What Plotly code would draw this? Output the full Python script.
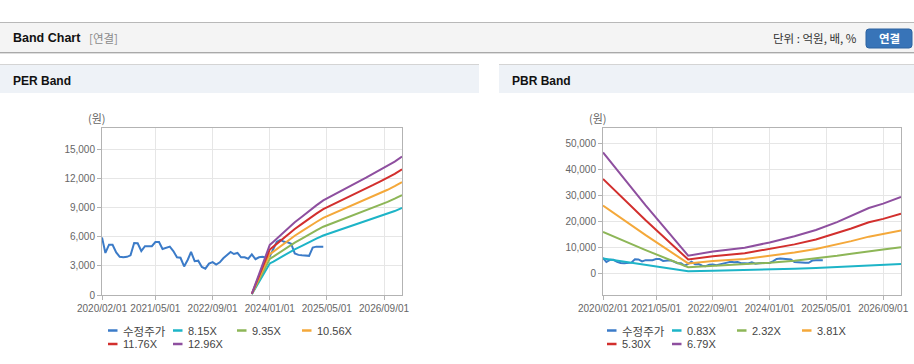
import pandas as pd
import plotly.graph_objects as go

# ---------------- data ----------------
price_start = "2020-02-01"
price_values = [5950, 4350, 5200, 5200, 4400, 3950, 3900, 3950, 4100, 5380,
                5350, 4550, 5050, 5050, 5050, 5480, 5480, 4750, 4900, 5000,
                4550, 3900, 3850, 2950, 3650, 4450, 3500, 3550, 2900, 2720,
                3250, 3400, 3140, 3380, 3800, 4100, 4450, 4240, 4345, 3900,
                3900, 3750, 4200, 3700, 3900, 3950, 3850, 4000, 4700, 5500,
                5700, 5500, 5450, 5300, 4300, 4150, 4100, 4050, 4050, 4900,
                5000, 5000, 5000]
price_dates = pd.date_range(price_start, periods=len(price_values), freq="MS")

per_band_dates = ["2023-08-01", "2024-01-01", "2024-02-01", "2024-04-01", "2024-06-01",
                  "2024-08-01", "2024-10-01", "2024-12-01", "2025-02-01", "2025-04-01",
                  "2025-06-01", "2025-08-01", "2025-10-01", "2025-12-01", "2026-02-01",
                  "2026-04-01", "2026-06-01", "2026-08-01", "2026-10-01", "2026-12-01",
                  "2027-02-01"]
per_8_15 = [80, 3260, 3460, 3900, 4320, 4730, 5090, 5480, 5830, 6150, 6400,
            6640, 6890, 7140, 7380, 7630, 7890, 8150, 8390, 8680, 9010]
per_9_35 = [90, 3740, 3970, 4470, 4960, 5420, 5840, 6280, 6690, 7060, 7340,
            7620, 7900, 8190, 8460, 8750, 9050, 9350, 9630, 9960, 10330]
per_10_56 = [110, 4220, 4490, 5050, 5600, 6130, 6600, 7100, 7550, 7970, 8290,
             8610, 8920, 9250, 9560, 9880, 10220, 10560, 10880, 11250, 11670]
per_11_76 = [120, 4700, 5000, 5620, 6230, 6820, 7350, 7900, 8410, 8880, 9230,
             9580, 9940, 10300, 10640, 11010, 11380, 11760, 12110, 12520, 13000]
per_12_96 = [130, 5180, 5510, 6200, 6870, 7520, 8100, 8710, 9270, 9790, 10170,
             10560, 10950, 11350, 11730, 12130, 12550, 12960, 13350, 13800, 14320]

pbr_band_dates = ["2020-02-01", "2021-02-01", "2022-02-01", "2022-09-01", "2023-06-01",
                  "2024-01-01", "2024-08-01", "2025-02-01", "2025-08-01", "2025-12-01",
                  "2026-05-01", "2026-09-01", "2027-02-01"]
pbr_0_83 = [5690, 3200, 830, 1020, 1200, 1450, 1740, 2030, 2410, 2700, 3070, 3280, 3590]
pbr_2_32 = [15890, 8930, 2320, 2850, 3360, 4060, 4870, 5680, 6730, 7540, 8580, 9160, 10020]
pbr_3_81 = [26100, 14670, 3810, 4690, 5520, 6670, 8000, 9330, 11050, 12380, 14100, 15050, 16460]
pbr_5_30 = [36300, 20400, 5300, 6520, 7690, 9280, 11130, 12990, 15370, 17220, 19610, 20940, 22900]
pbr_6_79 = [46510, 26140, 6790, 8350, 9850, 11880, 14260, 16640, 19690, 22070, 25120, 26820, 29330]

per_labels = ["수정주가", "8.15X", "9.35X", "10.56X", "11.76X", "12.96X"]
pbr_labels = ["수정주가", "0.83X", "2.32X", "3.81X", "5.30X", "6.79X"]

tick_vals = ["2020-02-01", "2021-05-01", "2022-09-01", "2024-01-01", "2025-05-01", "2026-09-01"]
tick_text = ["2020/02/01", "2021/05/01", "2022/09/01", "2024/01/01", "2025/05/01", "2026/09/01"]

colors = ["#3b7bc8", "#1db4c7", "#8db657", "#f4a83a", "#d22f2d", "#8e4f9f"]

# ---------------- figure ----------------
W, H = 914, 364
def px(x):
    return x / W
def py(y):
    return 1 - y / H

FONT = "Liberation Sans, Noto Sans CJK KR, sans-serif"
KFONT = "Noto Sans CJK KR, Liberation Sans, sans-serif"

fig = go.Figure()

per_series = [per_8_15, per_9_35, per_10_56, per_11_76, per_12_96]
pbr_series = [pbr_0_83, pbr_2_32, pbr_3_81, pbr_5_30, pbr_6_79]

fig.add_trace(go.Scatter(x=price_dates, y=price_values, mode="lines",
                         line=dict(color=colors[0], width=2), name=per_labels[0],
                         xaxis="x", yaxis="y", showlegend=False))
for i, s in enumerate(per_series):
    fig.add_trace(go.Scatter(x=per_band_dates, y=s, mode="lines",
                             line=dict(color=colors[i + 1], width=2), name=per_labels[i + 1],
                             xaxis="x", yaxis="y", showlegend=False))

fig.add_trace(go.Scatter(x=price_dates, y=price_values, mode="lines",
                         line=dict(color=colors[0], width=2), name=pbr_labels[0],
                         xaxis="x2", yaxis="y2", showlegend=False))
for i, s in enumerate(pbr_series):
    fig.add_trace(go.Scatter(x=pbr_band_dates, y=s, mode="lines",
                             line=dict(color=colors[i + 1], width=2), name=pbr_labels[i + 1],
                             xaxis="x2", yaxis="y2", showlegend=False))

axis_common = dict(showline=True, mirror=True, linecolor="#b3b3b3", linewidth=1,
                   showgrid=True, gridcolor="#e6e6e6", gridwidth=1, zeroline=False,
                   ticks="outside", ticklen=4, tickcolor="#b3b3b3", automargin=False,
                   tickfont=dict(family=FONT, size=10, color="#666666"))

xr = ["2020-02-01", "2027-02-01"]
fig.update_layout(
    template="none",
    width=W, height=H, autosize=False, margin=dict(l=0, r=0, t=0, b=0, pad=0),
    paper_bgcolor="white", plot_bgcolor="white", showlegend=False,
    hovermode=False,
    xaxis=dict(domain=[px(102), px(402)], anchor="y", type="date", range=xr, tickangle=0,
               tickmode="array", tickvals=tick_vals, ticktext=tick_text, **axis_common),
    yaxis=dict(domain=[py(295), py(128)], anchor="x", range=[0, 17270],
               tickmode="linear", tick0=0, dtick=3000, tickformat=",d", **axis_common),
    xaxis2=dict(domain=[px(603), px(901)], anchor="y2", type="date", range=xr, tickangle=0,
                tickmode="array", tickvals=tick_vals, ticktext=tick_text, **axis_common),
    yaxis2=dict(domain=[py(295), py(128)], anchor="x2", range=[-8350, 55900],
                tickmode="linear", tick0=0, dtick=10000, tickformat=",d", **axis_common),
)

shapes = []
def rect(x0, y0, x1, y1, fill, line=None):
    shapes.append(dict(type="rect", xref="paper", yref="paper",
                       x0=px(x0), x1=px(x1), y0=py(y1), y1=py(y0),
                       fillcolor=fill, line=dict(width=0) if line is None else line,
                       layer="below"))
def hline(x0, x1, y, color, width=1):
    shapes.append(dict(type="line", xref="paper", yref="paper",
                       x0=px(x0), x1=px(x1), y0=py(y), y1=py(y),
                       line=dict(color=color, width=width), layer="above"))

# top header bar
rect(0, 22.5, 914, 52.5, "#f4f4f4")
hline(0, 914, 22.5, "#b8b8b8")
hline(0, 914, 52.5, "#a9a9a9")
hline(0, 914, 53.5, "#dedede")
# panel headers
rect(0, 64.5, 479, 93, "#eef2f7")
hline(0, 479, 64.5, "#d4d4d4")
rect(499, 64.5, 914, 93, "#eef2f7")
hline(499, 914, 64.5, "#d4d4d4")

# button (rounded)
bx0, by0, bx1, by1, r = 866, 29, 912, 48, 3
path = (f"M {px(bx0 + r)},{py(by0)} L {px(bx1 - r)},{py(by0)} "
        f"Q {px(bx1)},{py(by0)} {px(bx1)},{py(by0 + r)} L {px(bx1)},{py(by1 - r)} "
        f"Q {px(bx1)},{py(by1)} {px(bx1 - r)},{py(by1)} L {px(bx0 + r)},{py(by1)} "
        f"Q {px(bx0)},{py(by1)} {px(bx0)},{py(by1 - r)} L {px(bx0)},{py(by0 + r)} "
        f"Q {px(bx0)},{py(by0)} {px(bx0 + r)},{py(by0)} Z")
shapes.append(dict(type="path", xref="paper", yref="paper", path=path,
                   fillcolor="#3874b8", line=dict(color="#2c62a0", width=1), layer="above"))

annotations = []
def text(x, y, s, size=11, color="#333333", bold=False, xanchor="left", family=KFONT):
    annotations.append(dict(x=px(x), y=py(y), xref="paper", yref="paper",
                            text=f"<b>{s}</b>" if bold else s, showarrow=False,
                            xanchor=xanchor, yanchor="middle",
                            font=dict(family=family, size=size, color=color)))

text(11, 38, "Band Chart", size=12.5, color="#111111", bold=True, family=FONT)
text(87, 38.5, "[연결]", size=11.5, color="#8a8a8a")
text(859, 38.5, "단위 : 억원, 배, %", size=11.5, color="#333333", xanchor="right")
text(889, 38.5, "연결", size=11.5, color="white", bold=True, xanchor="center")
text(11, 80.5, "PER Band", size=12, color="#111111", bold=True, family=FONT)
text(510, 80.5, "PBR Band", size=12, color="#111111", bold=True, family=FONT)
text(97, 118, "(원)", size=11, color="#666666", xanchor="center")
text(598, 118, "(원)", size=11, color="#666666", xanchor="center")

# manual legends
def legend(cols, labels):
    rows = [330.5, 344]
    for i, lab in enumerate(labels):
        cx = cols[i % 4]
        ry = rows[i // 4]
        shapes.append(dict(type="line", xref="paper", yref="paper",
                           x0=px(cx), x1=px(cx + 9.5), y0=py(ry), y1=py(ry),
                           line=dict(color=colors[i], width=2.5), layer="above"))
        text(cx + 13, ry, lab, size=11.5 if i == 0 else 11, color="#444444",
             family=KFONT if i == 0 else FONT)

legend([108, 173, 237, 302], per_labels)
legend([607, 672, 737, 802], pbr_labels)

fig.update_layout(shapes=shapes, annotations=annotations)

post = """
document.documentElement.style.margin='0';
document.body.style.margin='0';
document.body.style.padding='0';
document.body.style.overflow='hidden';
document.documentElement.style.overflow='hidden';
"""
fig.write_html("out.html", config={"responsive": False, "displayModeBar": False},
               post_script=post)
